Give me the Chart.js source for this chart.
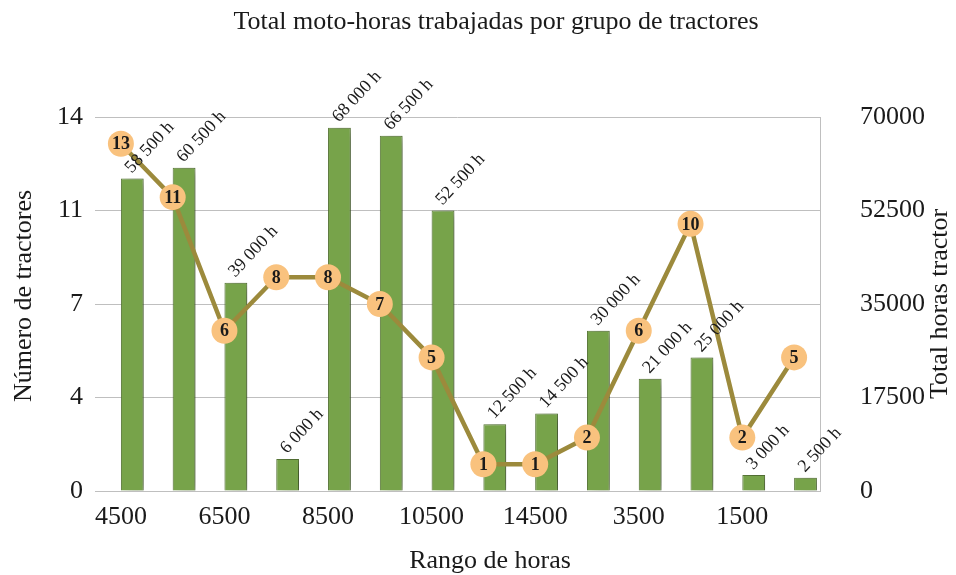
<!DOCTYPE html>
<html>
<head>
<meta charset="utf-8">
<script src="https://cdn.jsdelivr.net/npm/chart.js@4.4.1/dist/chart.umd.min.js"></script>
<style>
  html, body { margin: 0; padding: 0; background: #fff; }
</style>
</head>
<body>
<canvas id="grafico" width="956" height="575"></canvas>
<script>
// rango de horas (solo se rotulan los pares, como en el original)
const rangos = ['4500', '5500', '6500', '7500', '8500', '9500', '10500', '12500', '14500', '2500', '3500', '500', '1500', '1000'];
const tractores = [13, 11, 6, 8, 8, 7, 5, 1, 1, 2, 6, 10, 2, 5];
const horas = [58500, 60500, 39000, 6000, 68000, 66500, 52500, 12500, 14500, 30000, 21000, 25000, 3000, 2500];
const ticksIzq = [0, 3.5, 7, 10.5, 14];
const ticksDer = [0, 17500, 35000, 52500, 70000];

const titulo = 'Total moto-horas trabajadas por grupo de tractores';
const tituloX = 'Rango de horas';
const tituloY = 'Número de tractores';
const tituloY1 = 'Total horas tractor';

const SERIF = "'Liberation Serif', 'Times New Roman', serif";
const GRIS = '#bfbfbf';
const TINTA = '#1a1a1a';

function fmtHoras(v) {
    return String(v).replace(/\B(?=(\d{3})+(?!\d))/g, ' ') + ' h';
}

// sombra suave detras de las barras
const sombraBarras = {
    id: 'sombraBarras',
    beforeDatasetDraw(chart, args) {
        if (args.index !== 2) return;
        const ctx = chart.ctx;
        ctx.save();
        ctx.shadowColor = 'rgba(0,0,0,0.4)';
        ctx.shadowBlur = 12;
        ctx.shadowOffsetX = 5;
        ctx.shadowOffsetY = 2;
    },
    afterDatasetDraw(chart, args) {
        if (args.index !== 2) return;
        chart.ctx.restore();
    }
};

// etiquetas de datos y titulos
const etiquetas = {
    id: 'etiquetas',
    afterDatasetsDraw(chart) {
        const ctx = chart.ctx;
        const barras = chart.getDatasetMeta(2);
        ctx.save();
        ctx.fillStyle = TINTA;
        ctx.font = '18px ' + SERIF;
        ctx.textAlign = 'left';
        ctx.textBaseline = 'middle';
        barras.data.forEach((bar, i) => {
            ctx.save();
            ctx.translate(bar.x - 4, bar.y - 8);
            ctx.rotate(-47 * Math.PI / 180);
            ctx.fillText(fmtHoras(horas[i]), 0, 0);
            ctx.restore();
        });

        const puntos = chart.getDatasetMeta(0);
        ctx.font = 'bold 18px ' + SERIF;
        ctx.textAlign = 'center';
        puntos.data.forEach((p, i) => {
            ctx.fillText(String(tractores[i]), p.x, p.y + 1);
        });

        ctx.font = '26px ' + SERIF;
        ctx.fillText(titulo, 496, 22);
        ctx.fillText(tituloX, 490, 561);

        ctx.save();
        ctx.translate(24, 296);
        ctx.rotate(-Math.PI / 2);
        ctx.fillText(tituloY, 0, 0);
        ctx.restore();

        ctx.translate(940, 304);
        ctx.rotate(-Math.PI / 2);
        ctx.fillText(tituloY1, 0, 0);
        ctx.restore();
    }
};

const ctx = document.getElementById('grafico').getContext('2d');
new Chart(ctx, {
    type: 'bar',
    data: {
        labels: rangos,
        datasets: [
            {
                type: 'line',
                label: tituloY,
                data: tractores,
                yAxisID: 'y',
                borderColor: '#9c8a3c',
                borderWidth: 4.5,
                tension: 0,
                pointRadius: 13,
                pointBackgroundColor: '#f9c27e',
                pointBorderWidth: 0,
                order: 0
            },
            {
                label: '',
                data: rangos.map(() => null),
                yAxisID: 'y1',
                order: 1
            },
            {
                label: tituloY1,
                data: horas,
                yAxisID: 'y1',
                backgroundColor: '#77a34a',
                borderColor: '#5c7c3a',
                borderWidth: 1,
                order: 1
            }
        ]
    },
    options: {
        responsive: false,
        animation: false,
        layout: { padding: { top: 117, left: 0, right: 0, bottom: 0 } },
        datasets: { bar: { categoryPercentage: 0.88, barPercentage: 1.0 } },
        plugins: {
            legend: { display: false },
            tooltip: { enabled: false }
        },
        scales: {
            x: {
                offset: true,
                grid: { display: false },
                border: { display: true, color: GRIS },
                ticks: {
                    autoSkip: false,
                    maxRotation: 0,
                    padding: 3,
                    color: TINTA,
                    font: { family: SERIF, size: 26 },
                    callback: (v, i) => (i % 2 === 0 ? rangos[i] : '')
                },
                afterFit: s => { s.height = 84; }
            },
            y: {
                position: 'left',
                min: 0,
                max: 14,
                afterBuildTicks: s => { s.ticks = ticksIzq.map(v => ({ value: v })); },
                ticks: {
                    padding: 12,
                    color: TINTA,
                    font: { family: SERIF, size: 26 },
                    callback: v => Math.round(v)
                },
                grid: { color: GRIS, drawTicks: false },
                border: { display: false },
                afterFit: s => { s.width = 95; }
            },
            y1: {
                position: 'right',
                min: 0,
                max: 70000,
                afterBuildTicks: s => { s.ticks = ticksDer.map(v => ({ value: v })); },
                ticks: {
                    padding: 40,
                    color: TINTA,
                    font: { family: SERIF, size: 26 },
                    callback: v => String(v)
                },
                grid: { drawOnChartArea: false, drawTicks: false },
                border: { display: true, color: GRIS },
                afterFit: s => { s.width = 136; }
            }
        }
    },
    plugins: [sombraBarras, etiquetas]
});
</script>
</body>
</html>
